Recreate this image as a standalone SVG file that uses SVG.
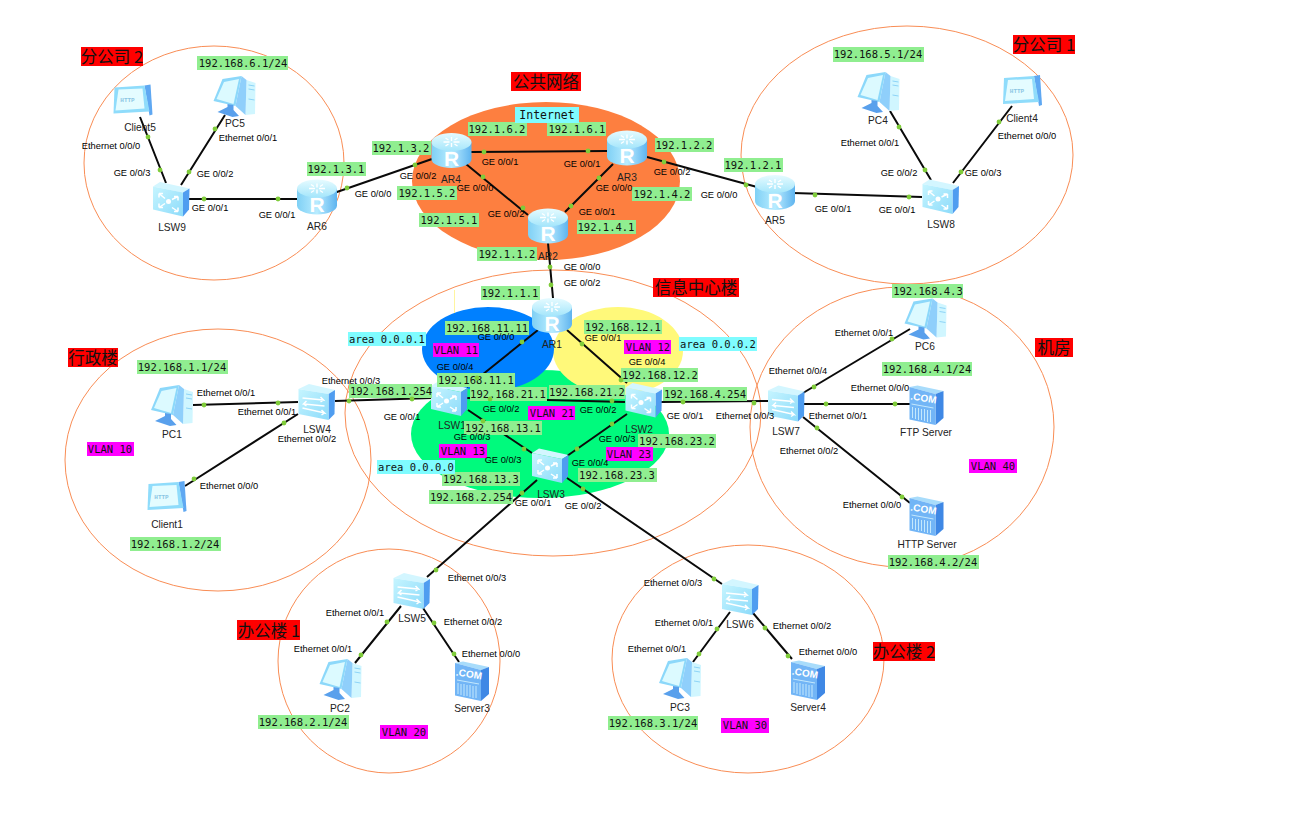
<svg xmlns="http://www.w3.org/2000/svg" width="1314" height="813" viewBox="0 0 1314 813">
<style>
text{text-anchor:middle;dominant-baseline:central}
.i{font:9.3px "Liberation Sans",Arial,sans-serif;fill:#000}
.n{font:10.2px "Liberation Sans",Arial,sans-serif;fill:#222}
.m{font:10.5px "DejaVu Sans Mono","Liberation Mono",monospace;fill:#111}
.t{font:16.5px "Noto Sans CJK SC","Liberation Sans",sans-serif;fill:#111}
.g{fill:#90ee90}.c{fill:#7ffcff}.v{fill:#ff00ff}.r{fill:#ff0000}
.z{fill:none;stroke:#f98d55;stroke-width:1}
.l{stroke:#0a0a0a;stroke-width:2;fill:none}
.d{fill:#7fcc3a}
.w{stroke:#fff;stroke-width:1.5;fill:none}
</style>
<defs>
<linearGradient id="gb" x1="0" y1="0" x2="1" y2="0"><stop offset="0" stop-color="#7fd0f5"/><stop offset=".5" stop-color="#b8ecff"/><stop offset="1" stop-color="#5fb4ef"/></linearGradient>
<linearGradient id="gt" x1="0" y1="0" x2="0" y2="1"><stop offset="0" stop-color="#e6fbff"/><stop offset="1" stop-color="#a5e6fb"/></linearGradient>
<linearGradient id="gf" x1="0" y1="0" x2="1" y2="1"><stop offset="0" stop-color="#c6f5ff"/><stop offset="1" stop-color="#8ddbfa"/></linearGradient>
<g id="router">
<path d="M-20-8V9A20 9 0 0 0 20 9V-8Z" fill="url(#gb)"/>
<ellipse cx="0" cy="-8" rx="20" ry="9" fill="url(#gt)"/>
<path d="M-8-8h6M8-8h-6M0-13v4M0-3v-4M-6-12l3 2M6-12l-3 2M-6-4l3-2M6-4l-3-2" stroke="#fff" stroke-width="1.4" fill="none"/>
<text x="0" y="8" style="font:bold 21px 'Liberation Sans',sans-serif;fill:#fff">R</text>
</g>
<g id="l3">
<path d="M-18-13L-11-17.500 18.500-11 12-7Z" fill="#d3f6ff"/>
<path d="M12-7L18.500-11 18 10 12 17Z" fill="#4f9df0"/>
<path d="M-18-13L12-7V17L-18 10Z" fill="url(#gf)"/>
<path d="M-12-6l6 5M-12-6h4M-12-6v4M7-3l-6 3M7-3h-4M7-3v4M-12 8l6-4M-12 8h4M-12 8v-4M7 12l-6-4M7 12h-4M7 12v-4" class="w"/>
<circle cx="-2.500" cy="2" r="2.500" fill="#fff"/>
</g>
<g id="l2">
<path d="M-18-13L-7.500-18 18.500-12 12-8Z" fill="#d3f6ff"/>
<path d="M12-8L18.500-12 18 12 12 18Z" fill="#4f9df0"/>
<path d="M-18-13L12-8V18L-18 12Z" fill="url(#gf)"/>
<path d="M-14-4L7-2l-3-3M7-2l-3 2M8 4L-13 2l3-3M-13 2l3 2M-14 6L8 11l-3-3M8 11l-3 2" class="w"/>
</g>
<g id="pc">
<path d="M12-16L21-13 20.500 18 11 19Z" fill="#d0f6ff"/>
<path d="M14-11l6 1M14-7l6 1M14 3l6 1" stroke="#8ed4f7" stroke-width="1" fill="none"/>
<path d="M7-20L12-16 11 19 1 10Z" fill="#8fcffb"/>
<path d="M-12-17L7-20 1 10-21 5Z" fill="#8cd8fa"/>
<path d="M-10.500-14L4.500-17-1 8-18 3Z" fill="#dcfaff"/>
<path d="M-17 16L-7 11V8L-1 9V14L4.500 20-2 21Z" fill="#59a0ec"/>
</g>
<g id="client">
<path d="M12-15L18-16 20 14 17 15Z" fill="#5fa8f2"/>
<path d="M-18-13L12-15 17 11-19 13Z" fill="#8fdcfb"/>
<path d="M-14-11L10-12 12 8-17 10Z" fill="#e4fcff"/>
<text x="-5" y="0" style="font:bold 6px 'Liberation Mono',monospace;fill:#8cc6e4">HTTP</text>
</g>
<g id="server">
<path d="M-17-18L-9-19.500 17-14 9-11Z" fill="#a8dcfb"/>
<path d="M9-11L17-14V13L9 20Z" fill="#3f88e5"/>
<path d="M-17-18L9-11V20L-17 14.500Z" fill="#72b5f6"/>
<text x="-3" y="-7" transform="rotate(9 -3 -7)" style="font:bold 10px 'Liberation Sans',sans-serif;fill:#fff">.COM</text>
<path d="M-15-1L7 3M-14 2V13M-11 3V14M-8 3V15M-5 4V15M-2 4V16M1 5V17M4 5V17" stroke="#c3e8fd" stroke-width="1" fill="none"/>
</g>
</defs>
<rect width="1314" height="813" fill="#fff"/>
<g id="zones">
<ellipse cx="214" cy="163" rx="130" ry="117" class="z"/>
<ellipse cx="546" cy="181" rx="134" ry="79" fill="#fd7f40"/>
<ellipse cx="907" cy="155" rx="166" ry="129" class="z"/>
<ellipse cx="553" cy="413" rx="208" ry="143" class="z"/>
<ellipse cx="218" cy="460" rx="153" ry="131" class="z"/>
<ellipse cx="902" cy="427" rx="152" ry="140" class="z"/>
<ellipse cx="389" cy="661" rx="111" ry="112" class="z"/>
<ellipse cx="748" cy="659" rx="136" ry="114" class="z"/>
<ellipse cx="540" cy="434" rx="129" ry="64" fill="#00fa7d"/>
<ellipse cx="618" cy="351" rx="65" ry="44" fill="#fff97a"/>
<ellipse cx="488" cy="349" rx="66" ry="42" fill="#0080ff"/>
<path d="M454.500 290V313" stroke="#fff5a0" stroke-width="1"/>
</g>
<g id="connectors" class="l">
<path d="M470 152L607 151M466 164L528 215M613 164L565 212M432 159L334 193M647 157L757 187M548 243L553 298"/>
<path d="M538 330L467 387M567 330L627 383M467 398L625 402M468 410L532 453M627 414L567 456M537 480L427 577M567 478L722 584M432 398L335 401M661 402L768 401"/>
<path d="M193 405L298 402M298 414L185 486M803 393L910 329M803 404L910 404M803 417L910 503M793 193L922 197M890 111L931 180M953 183L1012 106"/>
<path d="M140 117L166 183M181 185L225 115M189 199L297 199M401 606L355 663M423 608L459 662M730 612L693 662M753 613L792 659"/>
</g>
<g id="AR4"><use href="#router" x="451.500" y="150"/><text class="n" x="451" y="179">AR4</text></g>
<g id="AR3"><use href="#router" x="627" y="147.500"/><text class="n" x="627" y="177">AR3</text></g>
<g id="AR2"><use href="#router" x="548" y="225.500"/><text class="n" x="548" y="256">AR2</text></g>
<g id="AR1"><use href="#router" x="552" y="315"/><text class="n" x="552" y="344">AR1</text></g>
<g id="AR5"><use href="#router" x="775" y="192"/><text class="n" x="775" y="220">AR5</text></g>
<g id="AR6"><use href="#router" x="317" y="196.500"/><text class="n" x="317" y="226">AR6</text></g>
<g id="LSW1"><use href="#l3" x="449" y="399"/><text class="n" x="452" y="425">LSW1</text></g>
<g id="LSW2"><use href="#l3" x="643.500" y="400.500"/><text class="n" x="639" y="429">LSW2</text></g>
<g id="LSW3"><use href="#l3" x="550" y="466"/><text class="n" x="551" y="494">LSW3</text></g>
<g id="LSW8"><use href="#l3" x="940.500" y="197"/><text class="n" x="941" y="224">LSW8</text></g>
<g id="LSW9"><use href="#l3" x="171" y="199.500"/><text class="n" x="172" y="227">LSW9</text></g>
<g id="LSW4"><use href="#l2" x="316.500" y="402"/><text class="n" x="317" y="429">LSW4</text></g>
<g id="LSW5"><use href="#l2" x="411.500" y="591"/><text class="n" x="412" y="618">LSW5</text></g>
<g id="LSW6"><use href="#l2" x="740" y="597"/><text class="n" x="740" y="624">LSW6</text></g>
<g id="LSW7"><use href="#l2" x="786" y="403.500"/><text class="n" x="786" y="431">LSW7</text></g>
<g id="PC5"><use href="#pc" x="234.500" y="96"/><text class="n" x="235" y="123">PC5</text></g>
<g id="PC4"><use href="#pc" x="878.500" y="92"/><text class="n" x="878" y="120">PC4</text></g>
<g id="PC6"><use href="#pc" x="925.500" y="318.500"/><text class="n" x="925" y="346">PC6</text></g>
<g id="PC1"><use href="#pc" x="172" y="405"/><text class="n" x="172" y="434">PC1</text></g>
<g id="PC2"><use href="#pc" x="340.500" y="679"/><text class="n" x="340" y="708">PC2</text></g>
<g id="PC3"><use href="#pc" x="680" y="678"/><text class="n" x="680" y="707">PC3</text></g>
<g id="Client5"><use href="#client" x="132.500" y="100.500"/><text class="n" x="140" y="127">Client5</text></g>
<g id="Client4"><use href="#client" x="1022" y="91"/><text class="n" x="1022" y="118">Client4</text></g>
<g id="Client1"><use href="#client" x="166.500" y="497"/><text class="n" x="167" y="524">Client1</text></g>
<g id="FTP_Server"><use href="#server" x="926.500" y="405"/><text class="n" x="926" y="432">FTP Server</text></g>
<g id="HTTP_Server"><use href="#server" x="926.500" y="516"/><text class="n" x="927" y="544">HTTP Server</text></g>
<g id="Server3"><use href="#server" x="472" y="681"/><text class="n" x="472" y="708">Server3</text></g>
<g id="Server4"><use href="#server" x="808" y="680"/><text class="n" x="808" y="707">Server4</text></g>
<g id="addresses">
<rect class="g" x="197" y="56" width="91" height="14"/><text class="m" x="243" y="63">192.168.6.1/24</text>
<rect class="g" x="307" y="162" width="59" height="14"/><text class="m" x="336" y="169">192.1.3.1</text>
<rect class="g" x="372" y="141" width="59" height="14"/><text class="m" x="401" y="148">192.1.3.2</text>
<rect class="g" x="468" y="122" width="59" height="14"/><text class="m" x="497" y="129">192.1.6.2</text>
<rect class="g" x="547" y="122" width="59" height="14"/><text class="m" x="577" y="129">192.1.6.1</text>
<rect class="g" x="655" y="138" width="59" height="14"/><text class="m" x="684" y="145">192.1.2.2</text>
<rect class="g" x="724" y="158" width="59" height="14"/><text class="m" x="753" y="165">192.1.2.1</text>
<rect class="g" x="397" y="186" width="60" height="14"/><text class="m" x="427" y="193">192.1.5.2</text>
<rect class="g" x="419" y="213" width="60" height="14"/><text class="m" x="449" y="220">192.1.5.1</text>
<rect class="g" x="632" y="187" width="60" height="14"/><text class="m" x="662" y="194">192.1.4.2</text>
<rect class="g" x="577" y="220" width="59" height="14"/><text class="m" x="606" y="227">192.1.4.1</text>
<rect class="g" x="477" y="247" width="60" height="14"/><text class="m" x="507" y="254">192.1.1.2</text>
<rect class="g" x="481" y="286" width="59" height="14"/><text class="m" x="510" y="293">192.1.1.1</text>
<rect class="g" x="833" y="47" width="91" height="15"/><text class="m" x="878" y="54">192.168.5.1/24</text>
<rect class="g" x="892" y="284" width="71" height="14"/><text class="m" x="928" y="291">192.168.4.3</text>
<rect class="g" x="882" y="362" width="90" height="14"/><text class="m" x="927" y="369">192.168.4.1/24</text>
<rect class="g" x="888" y="555" width="91" height="14"/><text class="m" x="933" y="562">192.168.4.2/24</text>
<rect class="g" x="445" y="321" width="84" height="14"/><text class="m" x="487" y="328">192.168.11.11</text>
<rect class="g" x="584" y="320" width="78" height="14"/><text class="m" x="623" y="327">192.168.12.1</text>
<rect class="g" x="621" y="368" width="77" height="14"/><text class="m" x="660" y="375">192.168.12.2</text>
<rect class="g" x="663" y="387" width="84" height="14"/><text class="m" x="705" y="394">192.168.4.254</text>
<rect class="g" x="349" y="384" width="83" height="14"/><text class="m" x="391" y="391">192.168.1.254</text>
<rect class="g" x="437" y="373" width="78" height="14"/><text class="m" x="476" y="380">192.168.11.1</text>
<rect class="g" x="470" y="387" width="77" height="14"/><text class="m" x="508" y="394">192.168.21.1</text>
<rect class="g" x="549" y="385" width="76" height="14"/><text class="m" x="587" y="392">192.168.21.2</text>
<rect class="g" x="464" y="421" width="78" height="14"/><text class="m" x="503" y="428">192.168.13.1</text>
<rect class="g" x="638" y="434" width="78" height="14"/><text class="m" x="677" y="441">192.168.23.2</text>
<rect class="g" x="578" y="468" width="79" height="14"/><text class="m" x="617" y="475">192.168.23.3</text>
<rect class="g" x="442" y="472" width="78" height="14"/><text class="m" x="481" y="479">192.168.13.3</text>
<rect class="g" x="429" y="490" width="84" height="14"/><text class="m" x="471" y="497">192.168.2.254</text>
<rect class="g" x="137" y="360" width="91" height="14"/><text class="m" x="182" y="367">192.168.1.1/24</text>
<rect class="g" x="130" y="537" width="91" height="14"/><text class="m" x="175" y="544">192.168.1.2/24</text>
<rect class="g" x="258" y="715" width="91" height="14"/><text class="m" x="303" y="722">192.168.2.1/24</text>
<rect class="g" x="608" y="716" width="90" height="14"/><text class="m" x="653" y="723">192.168.3.1/24</text>
</g>
<g id="vlans">
<rect class="v" x="87" y="442" width="47" height="14"/><text class="m" x="110" y="449">VLAN 10</text>
<rect class="v" x="433" y="343" width="46" height="14"/><text class="m" x="456" y="350">VLAN 11</text>
<rect class="v" x="624" y="340" width="47" height="14"/><text class="m" x="648" y="347">VLAN 12</text>
<rect class="v" x="439" y="444" width="48" height="14"/><text class="m" x="463" y="451">VLAN 13</text>
<rect class="v" x="528" y="406" width="47" height="14"/><text class="m" x="552" y="413">VLAN 21</text>
<rect class="v" x="606" y="447" width="47" height="14"/><text class="m" x="629" y="454">VLAN 23</text>
<rect class="v" x="969" y="459" width="48" height="14"/><text class="m" x="993" y="466">VLAN 40</text>
<rect class="v" x="380" y="725" width="48" height="14"/><text class="m" x="404" y="732">VLAN 20</text>
<rect class="v" x="721" y="718" width="48" height="15"/><text class="m" x="745" y="725">VLAN 30</text>
</g>
<g id="areas">
<rect class="c" x="348" y="332" width="78" height="14"/><text class="m" x="387" y="339">area 0.0.0.1</text>
<rect class="c" x="679" y="337" width="78" height="14"/><text class="m" x="718" y="344">area 0.0.0.2</text>
<rect class="c" x="377" y="460" width="78" height="14"/><text class="m" x="416" y="467">area 0.0.0.0</text>
<rect class="c" x="515" y="107" width="64" height="16"/><text class="m" x="547" y="115" style="font-size:11.5px">Internet</text>
</g>
<g id="titles">
<rect class="r" x="81" y="47" width="62" height="19"/><text class="t" x="112" y="56">分公司 2</text>
<rect class="r" x="511" y="72" width="70" height="19"/><text class="t" x="546" y="81">公共网络</text>
<rect class="r" x="1013" y="35" width="62" height="19"/><text class="t" x="1044" y="44">分公司 1</text>
<rect class="r" x="653" y="278" width="86" height="19"/><text class="t" x="696" y="287">信息中心楼</text>
<rect class="r" x="68" y="348" width="50" height="19"/><text class="t" x="93" y="357">行政楼</text>
<rect class="r" x="1035" y="338" width="38" height="19"/><text class="t" x="1054" y="347">机房</text>
<rect class="r" x="237" y="620" width="63" height="20"/><text class="t" x="269" y="630">办公楼 1</text>
<rect class="r" x="873" y="642" width="62" height="19"/><text class="t" x="904" y="651">办公楼 2</text>
</g>
<g id="ports">
<text class="i" x="111" y="146">Ethernet 0/0/0</text><text class="i" x="132" y="173">GE 0/0/3</text><text class="i" x="248" y="138">Ethernet 0/0/1</text><text class="i" x="215" y="174">GE 0/0/2</text><text class="i" x="210" y="208">GE 0/0/1</text><text class="i" x="277" y="215">GE 0/0/1</text><text class="i" x="373" y="194">GE 0/0/0</text>
<text class="i" x="418" y="176">GE 0/0/2</text><text class="i" x="500" y="162">GE 0/0/1</text><text class="i" x="582" y="164">GE 0/0/1</text><text class="i" x="672" y="172">GE 0/0/2</text><text class="i" x="475" y="188">GE 0/0/0</text><text class="i" x="614" y="188">GE 0/0/0</text><text class="i" x="506" y="214">GE 0/0/2</text><text class="i" x="597" y="212">GE 0/0/1</text><text class="i" x="582" y="267">GE 0/0/0</text><text class="i" x="582" y="283">GE 0/0/2</text><text class="i" x="719" y="195">GE 0/0/0</text>
<text class="i" x="496" y="337">GE 0/0/0</text><text class="i" x="603" y="338">GE 0/0/1</text><text class="i" x="455" y="367">GE 0/0/4</text><text class="i" x="647" y="362">GE 0/0/4</text><text class="i" x="351" y="381">Ethernet 0/0/3</text><text class="i" x="402" y="417">GE 0/0/1</text><text class="i" x="501" y="409">GE 0/0/2</text><text class="i" x="598" y="410">GE 0/0/2</text><text class="i" x="685" y="416">GE 0/0/1</text><text class="i" x="745" y="416">Ethernet 0/0/3</text><text class="i" x="472" y="437">GE 0/0/3</text><text class="i" x="617" y="439">GE 0/0/3</text><text class="i" x="503" y="460">GE 0/0/3</text><text class="i" x="590" y="463">GE 0/0/4</text><text class="i" x="533" y="503">GE 0/0/1</text><text class="i" x="583" y="506">GE 0/0/2</text>
<text class="i" x="864" y="333">Ethernet 0/0/1</text><text class="i" x="798" y="371">Ethernet 0/0/4</text><text class="i" x="880" y="388">Ethernet 0/0/0</text><text class="i" x="838" y="416">Ethernet 0/0/1</text><text class="i" x="809" y="451">Ethernet 0/0/2</text><text class="i" x="872" y="505">Ethernet 0/0/0</text>
<text class="i" x="870" y="143">Ethernet 0/0/1</text><text class="i" x="1027" y="136">Ethernet 0/0/0</text><text class="i" x="899" y="173">GE 0/0/2</text><text class="i" x="983" y="173">GE 0/0/3</text><text class="i" x="833" y="209">GE 0/0/1</text><text class="i" x="897" y="210">GE 0/0/1</text>
<text class="i" x="226" y="393">Ethernet 0/0/1</text><text class="i" x="267" y="412">Ethernet 0/0/1</text><text class="i" x="307" y="439">Ethernet 0/0/2</text><text class="i" x="229" y="486">Ethernet 0/0/0</text>
<text class="i" x="477" y="578">Ethernet 0/0/3</text><text class="i" x="355" y="613">Ethernet 0/0/1</text><text class="i" x="473" y="622">Ethernet 0/0/2</text><text class="i" x="323" y="649">Ethernet 0/0/1</text><text class="i" x="491" y="654">Ethernet 0/0/0</text>
<text class="i" x="673" y="583">Ethernet 0/0/3</text><text class="i" x="684" y="623">Ethernet 0/0/1</text><text class="i" x="802" y="626">Ethernet 0/0/2</text><text class="i" x="657" y="649">Ethernet 0/0/1</text><text class="i" x="828" y="652">Ethernet 0/0/0</text>
</g>
<g id="port-dots" class="d">
<circle cx="484" cy="152" r="2.400"/><circle cx="588" cy="151" r="2.400"/><circle cx="483" cy="177" r="2.400"/><circle cx="523" cy="208" r="2.400"/><circle cx="599" cy="178" r="2.400"/><circle cx="571" cy="206" r="2.400"/><circle cx="415" cy="165" r="2.400"/><circle cx="347" cy="188" r="2.400"/><circle cx="664" cy="162" r="2.400"/><circle cx="746" cy="185" r="2.400"/><circle cx="550" cy="267" r="2.400"/><circle cx="551" cy="285" r="2.400"/>
<circle cx="522" cy="342" r="2.400"/><circle cx="477" cy="378" r="2.400"/><circle cx="582" cy="344" r="2.400"/><circle cx="621" cy="380" r="2.400"/><circle cx="490" cy="399" r="2.400"/><circle cx="612" cy="401" r="2.400"/><circle cx="483" cy="421" r="2.400"/><circle cx="524" cy="449" r="2.400"/><circle cx="612" cy="424" r="2.400"/><circle cx="577" cy="449" r="2.400"/><circle cx="522" cy="493" r="2.400"/><circle cx="436" cy="570" r="2.400"/><circle cx="583" cy="489" r="2.400"/><circle cx="714" cy="579" r="2.400"/><circle cx="412" cy="399" r="2.400"/><circle cx="349" cy="401" r="2.400"/><circle cx="683" cy="402" r="2.400"/><circle cx="754" cy="403" r="2.400"/>
<circle cx="204" cy="405" r="2.400"/><circle cx="278" cy="403" r="2.400"/><circle cx="284" cy="423" r="2.400"/><circle cx="194" cy="479" r="2.400"/><circle cx="814" cy="387" r="2.400"/><circle cx="892" cy="339" r="2.400"/><circle cx="826" cy="404" r="2.400"/><circle cx="895" cy="404" r="2.400"/><circle cx="817" cy="428" r="2.400"/><circle cx="902" cy="497" r="2.400"/><circle cx="815" cy="195" r="2.400"/><circle cx="909" cy="197" r="2.400"/><circle cx="899" cy="127" r="2.400"/><circle cx="925" cy="170" r="2.400"/><circle cx="961" cy="172" r="2.400"/><circle cx="999" cy="122" r="2.400"/>
<circle cx="148" cy="137" r="2.400"/><circle cx="160" cy="170" r="2.400"/><circle cx="189" cy="172" r="2.400"/><circle cx="215" cy="129" r="2.400"/><circle cx="204" cy="199" r="2.400"/><circle cx="278" cy="199" r="2.400"/><circle cx="387" cy="622" r="2.400"/><circle cx="361" cy="655" r="2.400"/><circle cx="434" cy="623" r="2.400"/><circle cx="454" cy="654" r="2.400"/><circle cx="717" cy="629" r="2.400"/><circle cx="699" cy="654" r="2.400"/><circle cx="765" cy="628" r="2.400"/><circle cx="788" cy="656" r="2.400"/>
</g>
</svg>
